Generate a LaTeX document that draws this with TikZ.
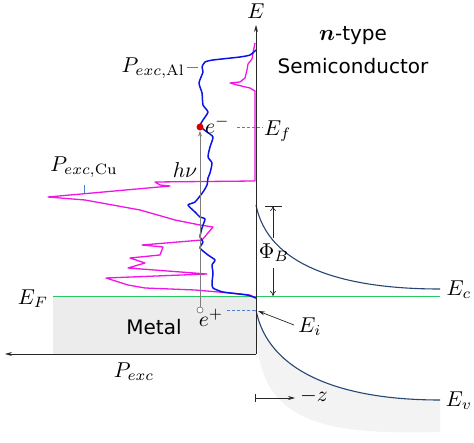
\documentclass[tikz,border=0pt]{standalone}
\usepackage{fontspec}
\newfontfamily\sansf{DejaVu Sans}
\usetikzlibrary{arrows.meta}
\definecolor{bandc}{RGB}{40,70,115}
\definecolor{efc}{RGB}{40,200,100}
\definecolor{dashc}{RGB}{80,125,205}
\definecolor{shadec}{RGB}{243,243,243}
\definecolor{metalc}{RGB}{236,236,236}
\definecolor{alc}{RGB}{10,20,230}
\definecolor{cuc}{RGB}{240,20,230}
\definecolor{photonc}{RGB}{125,125,125}
\newcommand{\mlab}[1]{\scalebox{2.15}{$#1$}}
\tikzset{
  lbl/.style={inner sep=0pt, font=\normalsize},
  sanslbl/.style={inner sep=0pt, font=\fontsize{20}{24}\selectfont\sansf},
  axisline/.style={line width=0.8pt, black!85},
  bandline/.style={line width=1.1pt, bandc},
  dashline/.style={line width=0.7pt, dashc, dash pattern=on 3pt off 2pt},
  tickline/.style={line width=0.7pt, dashc},
  tipline/.style={line width=0.7pt, black!85}
}
\begin{document}
\begin{tikzpicture}[x=1pt,y=-1pt]
\useasboundingbox (0,0) rectangle (474,443);
% shaded regions
\fill[metalc] (53,297) rectangle (256,354);
\fill[shadec] (256,310) .. controls (268,372) and (340,400) .. (440,400)
  -- (440,432) .. controls (330,435) and (262,425) .. (257,340) -- cycle;
% coordinates
\coordinate (O) at (256,354);
\coordinate (Etop) at (256,25);
\coordinate (Pend) at (5,354);
\coordinate (EFl) at (53,297);
\coordinate (EFr) at (440,297);
\coordinate (EcS) at (256,205);
\coordinate (EcE) at (440,289);
\coordinate (EvS) at (256,310);
\coordinate (EvE) at (440,400);
% Fermi level
\draw[line width=1pt, efc] (EFl) -- (EFr);
% bands
\draw[bandline] (EcS) .. controls (268,265) and (340,289) .. (EcE);
\draw[bandline] (EvS) .. controls (268,372) and (340,400) .. (EvE);
% Cu curve
\draw[line width=1.3pt, cuc, line join=round]
  (255,43) -- (253,53) -- (252,59) -- (248,64) -- (247,70) -- (245,78) -- (240,82)
  -- (230,83) -- (237,85) -- (250,88) -- (255,91) -- (255,181)
  -- (155,182) -- (160,185) -- (170,186) -- (48,197) -- (85,200) -- (140,210)
  -- (175,220) -- (200,225) -- (213,227) -- (202,240) -- (142,245) -- (163,247)
  -- (160,255) -- (130,258) -- (145,263) -- (128,268) -- (207,274) -- (106,278)
  -- (128,285) -- (145,288) -- (195,290) -- (230,293) -- (250,295) -- (256,298);
% Al curve
\draw[line width=1.5pt, alc, line join=round] plot[smooth, tension=0.35] coordinates {
  (256,50) (250,55) (240,57) (213,60) (205,62) (202,67) (203,72) (199,83) (202,93)
  (203,105) (208,112) (203,120) (200,126) (207,132) (213,137) (210,147) (208,157)
  (212,163) (210,173) (208,178) (207,185) (203,192) (195,202) (188,205) (195,212)
  (200,217) (205,219) (202,228) (200,237) (203,242) (200,248) (208,255) (215,260)
  (212,265) (213,273) (212,283) (213,288) (223,292) (247,295) (256,298)};
% axes
\draw[axisline, -{Stealth[length=7pt,width=4pt]}] (O) -- (Etop);
\draw[axisline, -{Stealth[length=7pt,width=4pt]}] (O) -- (Pend);
% photon and carriers
\node[circle, fill=red!85!black, inner sep=0pt, minimum size=7pt] (em) at (200,127) {};
\node[circle, draw=photonc, fill=white, line width=0.7pt, inner sep=0pt, minimum size=6pt] (hp) at (200,310) {};
\draw[line width=0.9pt, photonc, -{Stealth[length=6pt,width=4pt]}] (hp) -- (em);
% labels
\node[lbl] (El) at (256,11) {\mlab{E}};
\node[sanslbl] (nt) at (353,36) {\scalebox{1.08}{\boldmath$n$}-type};
\node[sanslbl] (sc) at (353,66) {Semiconductor};
\node[lbl, anchor=east] (pal) at (185,68) {\mlab{P_{exc,\mathrm{Al}}}};
\coordinate (palt) at (198,67);
\draw[tickline] (pal.east |- palt) ++(2,0) -- (palt);
\node[lbl, anchor=west] (eml) at (205,125) {\mlab{e^-}};
\coordinate (dfs) at (237,127);
\coordinate (dfe) at (263,127);
\draw[dashline] (dfs) -- (dfe);
\node[lbl, anchor=west] (Efl) at (264,131) {\mlab{E_f}};
\node[lbl] (hnu) at (185,170) {\mlab{h\nu}};
\node[lbl] (pcu) at (84,167) {\mlab{P_{exc,\mathrm{Cu}}}};
\coordinate (cut1) at (84,185);
\coordinate (cut2) at (84,193);
\draw[tickline] (cut1) -- (cut2);
\node[lbl] (EFlab) at (33,299) {\mlab{E_F}};
\node[sanslbl] (metal) at (154,327) {Metal};
\node[lbl] (hpl) at (211,318) {\mlab{e^+}};
\coordinate (dhs) at (227,310);
\coordinate (dhe) at (255,310);
\draw[dashline] (dhs) -- (dhe);
\node[lbl] (pexc) at (134,372) {\mlab{P_{exc}}};
% barrier
\coordinate (bt) at (273,206);
\coordinate (bb) at (273,296);
\draw[tipline] (265,206) -- (282,206);
\node[lbl] (phib) at (274,253) {\mlab{\Phi_B}};
\draw[tipline, -{To[length=5pt,width=6pt]}] (273,238) -- (bt);
\draw[tipline, -{To[length=5pt,width=6pt]}] (273,268) -- (bb);
\node[lbl] (Ecl) at (459,290) {\mlab{E_c}};
\node[lbl] (Evl) at (459,401) {\mlab{E_v}};
\node[lbl] (Eil) at (310,327) {\mlab{E_i}};
\coordinate (Eitip) at (258,311);
\draw[tipline, -{Stealth[length=7pt,width=4pt]}] (294,325) -- (Eitip);
% -z
\node[lbl] (zl) at (314,396) {\mlab{-z}};
\draw[tipline, {Bar[width=8pt]}-{Stealth[length=7pt,width=4pt]}] (255,398) -- (295,398);
\end{tikzpicture}
\end{document}
